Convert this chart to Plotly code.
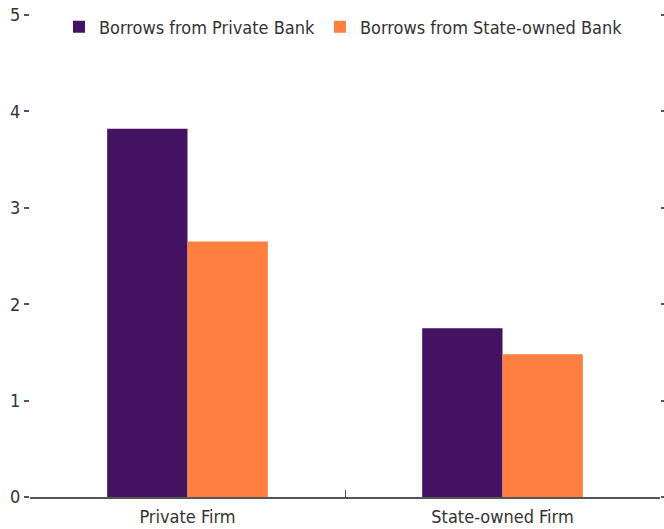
import plotly.graph_objects as go

categories = ["Private Firm", "State-owned Firm"]
private_bank = [3.82, 1.75]
state_bank = [2.65, 1.48]
series_names = ["Borrows from Private Bank", "Borrows from State-owned Bank"]
y_ticks = [0, 1, 2, 3, 4, 5]

FONT = "Liberation Sans Narrow, DejaVu Sans Condensed, Arial Narrow, sans-serif"

fig = go.Figure()
fig.add_trace(go.Bar(x=categories, y=private_bank, name=series_names[0],
                     marker=dict(color="#431260", line=dict(width=0))))
fig.add_trace(go.Bar(x=categories, y=state_bank, name=series_names[1],
                     marker=dict(color="#FE7F40", line=dict(width=0))))

fig.update_layout(
    width=664, height=529,
    margin=dict(l=30, r=4, t=15, b=32, autoexpand=False),
    barmode="group", bargap=0.49, bargroupgap=0,
    plot_bgcolor="white", paper_bgcolor="white",
    font=dict(family=FONT, size=18, color="#333333"),
    legend=dict(orientation="h", x=0.046, y=0.975, xanchor="left", yanchor="middle",
                font=dict(size=18, color="#333333"), bgcolor="rgba(0,0,0,0)",
                itemwidth=30, traceorder="normal"),
    showlegend=True,
)
fig.update_xaxes(type="category", showline=True, linecolor="#555555", linewidth=1.5,
                 ticks="inside", tickson="boundaries", ticklen=7, tickcolor="#555555",
                 showgrid=False, tickfont=dict(size=18, color="#333333"),
                 ticklabeloverflow="allow", ticklabelstandoff=3)
fig.update_yaxes(range=[0, 5], tickvals=y_ticks, ticks="outside", ticklen=5,
                 tickcolor="#555555", tickwidth=1.5, mirror="ticks", showline=False,
                 showgrid=False, zeroline=False, tickfont=dict(size=18, color="#333333"),
                 ticklabeloverflow="allow")

fig.write_html("out.html", config={"displayModeBar": False},
               post_script="document.body.style.margin='0';")
